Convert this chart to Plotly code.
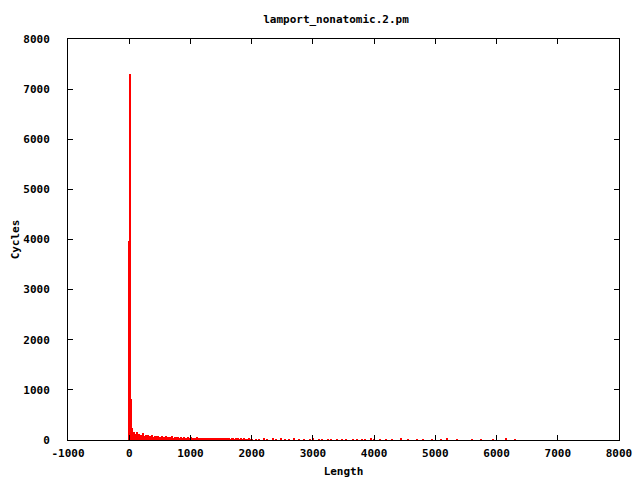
import plotly.graph_objects as go

# Spike near zero
spike_lengths = [-8, 12, 32]
spike_cycles = [3970, 7300, 820]

# Dense region (every 25 units from 55 to 2030)
dense_lengths = list(range(55, 2055, 25))
dense_cycles = [
    230, 150, 120, 160, 110, 100, 90, 130, 80, 95,
    100, 70, 85, 90, 60, 75, 80, 70, 65,
    70, 55, 60, 80, 50, 65, 55, 70, 45, 60, 50, 55, 45, 60, 40, 50, 45, 55, 40, 50,
    40, 45, 35, 50, 40, 35, 45, 30, 40, 35, 45, 30, 35, 40, 30, 35, 30, 35, 25, 30,
    30, 25, 35, 25, 30, 20, 30, 25, 20, 30, 25, 20, 25, 20, 25, 20, 15, 25, 20, 20,
]
dense_lengths = dense_lengths[:len(dense_cycles)]

# Sparse tail
tail_lengths = [2080, 2120, 2200, 2260, 2350, 2400, 2480, 2550, 2620, 2700, 2780, 2850,
                2950, 3000, 3100, 3150, 3250, 3300, 3400, 3480, 3550, 3650, 3720, 3800,
                3850, 3950, 4000, 4100, 4200, 4300, 4450, 4550, 4700, 4800, 4950, 5100,
                5200, 5350, 5600, 5750, 5950, 6150, 6300]
tail_cycles = [20, 15, 25, 20, 30, 20, 25, 20, 15, 25, 20, 15,
               20, 25, 15, 20, 20, 15, 20, 15, 20, 15, 20, 15,
               20, 35, 20, 15, 20, 15, 25, 15, 20, 15, 20, 15,
               25, 15, 20, 15, 20, 25, 15]

lengths = spike_lengths + dense_lengths + tail_lengths
cycles = spike_cycles + dense_cycles + tail_cycles

x_ticks = list(range(-1000, 9000, 1000))
y_ticks = list(range(0, 9000, 1000))

fig = go.Figure()
fig.add_trace(go.Bar(
    x=lengths, y=cycles, width=22,
    marker=dict(color="#ff0000", line=dict(width=0)),
    showlegend=False,
))

font_family = "DejaVu Sans Mono"
fnt = dict(family=font_family, size=11, color="black", weight="bold")
axis_common = dict(
    showline=True, linecolor="black", linewidth=1, mirror="allticks",
    ticks="inside", ticklen=5, tickcolor="black", showgrid=False, zeroline=False,
    tickfont=fnt, automargin=False,
)

fig.update_layout(
    width=640, height=480,
    margin=dict(l=68, r=21, t=39, b=40, autoexpand=False),
    paper_bgcolor="white", plot_bgcolor="white",
    bargap=0,
    title=dict(text="lamport_nonatomic.2.pm", x=0.525, xanchor="center", y=0.96, yanchor="middle",
               font=fnt, automargin=False),
    xaxis=dict(range=[-1000, 8000], tickvals=x_ticks, ticktext=[str(v) for v in x_ticks],
               title=dict(text="Length", standoff=8, font=fnt),
               ticklabelstandoff=3, **axis_common),
    yaxis=dict(range=[0, 8000], tickvals=y_ticks, ticktext=[str(v) for v in y_ticks],
               title=dict(text="Cycles", standoff=1, font=fnt),
               ticklabelstandoff=15, **axis_common),
)

fig.write_html("out.html", config={"displayModeBar": False},
               post_script="document.body.style.margin='0';document.body.style.overflow='hidden';")
